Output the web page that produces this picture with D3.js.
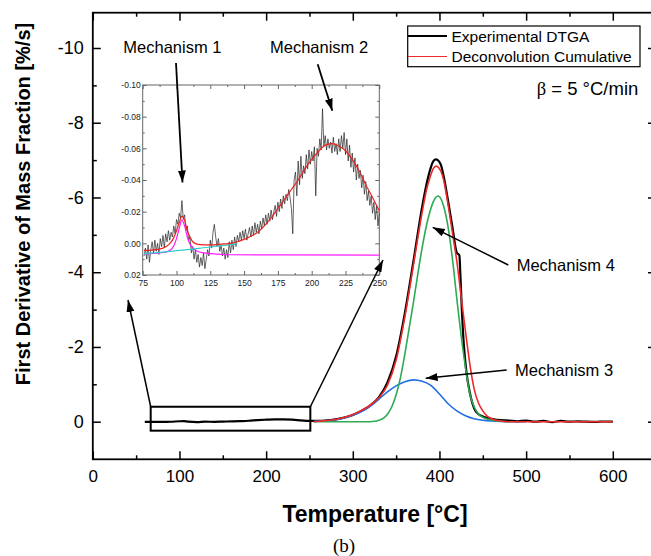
<!DOCTYPE html>
<html>
<head>
<meta charset="utf-8">
<script src="https://cdn.jsdelivr.net/npm/d3@7"></script>
<style>
  body { margin: 0; background: #fff; }
  svg { display: block; font-family: Arial, "Liberation Sans", sans-serif; }
</style>
</head>
<body>
<svg id="chart" width="651" height="556"></svg>
<script>
// ---- main chart data (temperature in °C, first derivative in %/s) ----
const expT = [60, 70, 80, 90, 100, 105, 110, 120, 130, 140, 150, 160, 170, 180, 190, 200, 210, 220, 230, 240, 250, 260, 270, 280, 290, 300, 310, 320, 330, 340, 350, 360, 370, 380, 385, 390, 393, 396, 399, 402, 405, 410, 415, 420, 423, 424, 426, 428, 431, 435, 440, 445, 450, 460, 470, 480, 490, 500, 510, 520, 530, 540, 550, 560, 570, 580, 590, 600];
const expV = [0.005, 0.003, 0.006, 0.001, -0.012, -0.015, 0.0, 0.01, 0.0, 0.003, -0.003, -0.008, -0.016, -0.026, -0.042, -0.054, -0.063, -0.062, -0.054, -0.036, -0.02, -0.02, -0.035, -0.06, -0.11, -0.18, -0.29, -0.43, -0.65, -1.05, -1.75, -2.9, -4.3, -5.75, -6.35, -6.8, -6.97, -7.02, -6.98, -6.85, -6.55, -5.9, -5.2, -4.52, -4.45, -4.0, -2.9, -2.1, -1.35, -0.78, -0.36, -0.2, -0.14, -0.08, -0.04, -0.03, -0.01, -0.03, 0.0, -0.02, 0.01, -0.02, 0.0, -0.01, 0.0, 0.005, -0.005, 0.0];

const cumT = [255, 260, 270, 280, 290, 300, 310, 320, 330, 340, 350, 360, 370, 380, 385, 390, 393, 396, 399, 402, 405, 410, 415, 420, 425, 430, 435, 440, 445, 450, 455, 460, 470, 480, 500, 520, 540, 560, 580, 600];
const cumV = [0, -0.01, -0.03, -0.06, -0.11, -0.19, -0.3, -0.44, -0.64, -0.98, -1.65, -2.8, -4.2, -5.6, -6.2, -6.6, -6.78, -6.84, -6.8, -6.68, -6.45, -5.8, -5.05, -4.3, -3.35, -2.42, -1.55, -0.88, -0.5, -0.29, -0.15, -0.08, -0.02, 0, 0, 0, 0, 0, 0, 0];

const mech4T = [255, 300, 320, 325, 330, 335, 340, 345, 350, 355, 360, 365, 370, 375, 380, 385, 390, 395, 398, 400, 405, 410, 415, 420, 425, 430, 435, 440, 445, 450, 455, 460, 470, 480];
const mech4V = [0, 0, 0, -0.01, -0.04, -0.09, -0.2, -0.4, -0.72, -1.18, -1.8, -2.5, -3.2, -3.95, -4.65, -5.25, -5.7, -5.98, -6.04, -6.02, -5.75, -5.2, -4.35, -3.3, -2.3, -1.45, -0.75, -0.4, -0.2, -0.12, -0.07, -0.04, -0.01, 0];

const mech3T = [255, 270, 280, 290, 300, 310, 320, 330, 340, 350, 360, 370, 380, 390, 400, 410, 420, 430, 440, 450, 460, 470, 480, 500];
const mech3V = [-0.01, -0.03, -0.05, -0.1, -0.17, -0.27, -0.41, -0.6, -0.8, -0.96, -1.07, -1.12, -1.08, -0.97, -0.74, -0.48, -0.29, -0.16, -0.08, -0.04, -0.02, -0.01, 0, 0];

const xTicks = [0, 100, 200, 300, 400, 500, 600];
const yTicks = [0, -2, -4, -6, -8, -10];

// ---- inset data (75-250 °C) ----
const inT = d3.range(76, 251); // 1 °C steps, one reading per degree
const inExp = [0.008, 0.003, 0.010, 0.001, 0.012, 0.004, -0.001, 0.006, -0.002, 0.005,
  0.000, 0.007, -0.003, 0.002, -0.005, 0.003, -0.006, -0.001, -0.008, -0.002,
  -0.007, -0.004, -0.011, -0.006, -0.015, -0.012, -0.019, -0.016, -0.027, -0.015,
  -0.018, -0.008, -0.011, -0.002, -0.004, 0.006, 0.002, 0.010, 0.004, 0.012,
  0.007, 0.015, 0.009, 0.014, 0.006, 0.016, 0.010, 0.004, 0.008, -0.002,
  0.003, -0.007, -0.012, -0.004, 0.002, -0.003, 0.005, 0.001, 0.008, 0.003,
  0.010, 0.004, 0.009, -0.001, 0.006, -0.002, 0.004, -0.004, 0.002, -0.005,
  -0.001, -0.007, -0.002, -0.008, -0.003, -0.009, -0.002, -0.006, -0.010, -0.004,
  -0.011, -0.005, -0.013, -0.007, -0.012, -0.006, -0.014, -0.009, -0.016, -0.011,
  -0.018, -0.012, -0.019, -0.014, -0.021, -0.015, -0.020, -0.024, -0.017, -0.026,
  -0.020, -0.028, -0.022, -0.030, -0.025, -0.031, -0.027, -0.034, -0.029, -0.022,
  -0.006, -0.040, -0.045, -0.030, -0.052, -0.037, -0.055, -0.041, -0.049, -0.044,
  -0.056, -0.047, -0.059, -0.050, -0.058, -0.052, -0.061, -0.030, -0.060, -0.055,
  -0.066, -0.059, -0.085, -0.061, -0.068, -0.059, -0.066, -0.060, -0.064, -0.057,
  -0.067, -0.058, -0.063, -0.056, -0.066, -0.058, -0.068, -0.060, -0.070, -0.056,
  -0.066, -0.052, -0.062, -0.048, -0.057, -0.045, -0.054, -0.040, -0.050, -0.041,
  -0.046, -0.035, -0.043, -0.031, -0.039, -0.027, -0.033, -0.024, -0.030, -0.019,
  -0.026, -0.015, -0.024, -0.011, -0.019];

const inCumT = [76, 80, 85, 90, 94, 97, 100, 102, 104, 106, 108, 110, 112, 115, 120, 125, 130, 135, 140, 145, 150, 155, 160, 165, 170, 175, 180, 185, 190, 195, 200, 205, 210, 215, 220, 225, 230, 235, 240, 245, 250];
const inCumV = [0.0045, 0.0044, 0.004, 0.003, 0.001, -0.002, -0.008, -0.013, -0.0172, -0.0145, -0.008, -0.004, -0.001, 0.0005, 0.001, 0.001, 0.0008, 0.0004, 0.0, -0.001, -0.0025, -0.0045, -0.007, -0.011, -0.016, -0.022, -0.028, -0.034, -0.040, -0.047, -0.053, -0.058, -0.062, -0.063, -0.0615, -0.0585, -0.053, -0.046, -0.037, -0.029, -0.0205];

const inM1T = [76, 85, 90, 95, 98, 100, 102, 104, 106, 108, 110, 112, 115, 120, 130, 140, 250];
const inM1V = [0.0066, 0.0062, 0.0058, 0.0046, 0.0015, -0.003, -0.0095, -0.0147, -0.011, -0.004, 0.0005, 0.003, 0.0048, 0.006, 0.0068, 0.0072, 0.0074];

const inBaseT = [76, 90, 100, 110, 120, 130, 140, 145];
const inBaseV = [0.0065, 0.0055, 0.0046, 0.0038, 0.0028, 0.0018, 0.0008, 0.0002];

const inXTicks = [75, 100, 125, 150, 175, 200, 225, 250];
const inYTicks = [-0.10, -0.08, -0.06, -0.04, -0.02, 0.00, 0.02];

// ---- layout ----
const frame = { left: 92.8, top: 12.7, right: 656, bottom: 459.3 };
const inset = { left: 142.7, top: 85, right: 379.3, bottom: 275 };

const svg = d3.select('#chart');
const x = d3.scaleLinear().domain([0, 600]).range([92.8, 612.8]);
const y = d3.scaleLinear().domain([0, -10]).range([421.7, 48]);
const xi = d3.scaleLinear().domain([75, 250]).range([inset.left, inset.right]);
const yi = d3.scaleLinear().domain([0.02, -0.10]).range([inset.bottom, inset.top]);

// plain hyphen for negative labels, as in the original figure
const hyphen = f => d => f(d).replace('\u2212', '-');

const defs = svg.append('defs');
defs.append('marker')
  .attr('id', 'head')
  .attr('viewBox', '0 0 12 8')
  .attr('refX', 12).attr('refY', 4)
  .attr('markerWidth', 12).attr('markerHeight', 8)
  .attr('markerUnits', 'userSpaceOnUse')
  .attr('orient', 'auto')
  .append('path').attr('d', 'M0,0 L12,4 L0,8 z').attr('fill', '#000');

// ---- main axes ----
function styleAxis(g, color, width) {
  g.select('.domain').remove();
  g.selectAll('.tick line').attr('stroke', color).attr('stroke-width', width);
}

const minorX = d3.range(50, 651, 100);
const minorY = [-1, -3, -5, -7, -9];

svg.append('g').attr('transform', `translate(0,${frame.bottom})`)
  .call(d3.axisBottom(x).tickValues(xTicks).tickSize(-8).tickPadding(11))
  .call(g => styleAxis(g, '#000', 1.5))
  .call(g => g.selectAll('text').attr('font-size', 17).attr('fill', '#000'));
svg.append('g').attr('transform', `translate(0,${frame.bottom})`)
  .call(d3.axisBottom(x).tickValues(minorX).tickSize(-4).tickFormat(''))
  .call(g => styleAxis(g, '#000', 1.5));
svg.append('g').attr('transform', `translate(0,${frame.top})`)
  .call(d3.axisTop(x).tickValues(xTicks).tickSize(-8).tickFormat(''))
  .call(g => styleAxis(g, '#000', 1.5));
svg.append('g').attr('transform', `translate(0,${frame.top})`)
  .call(d3.axisTop(x).tickValues(minorX).tickSize(-4).tickFormat(''))
  .call(g => styleAxis(g, '#000', 1.5));

svg.append('g').attr('transform', `translate(${frame.left},0)`)
  .call(d3.axisLeft(y).tickValues(yTicks).tickSize(-8).tickPadding(9).tickFormat(hyphen(d3.format('d'))))
  .call(g => styleAxis(g, '#000', 1.5))
  .call(g => g.selectAll('text').attr('font-size', 18).attr('fill', '#000'));
svg.append('g').attr('transform', `translate(${frame.left},0)`)
  .call(d3.axisLeft(y).tickValues(minorY).tickSize(-4).tickFormat(''))
  .call(g => styleAxis(g, '#000', 1.5));
svg.append('g').attr('transform', `translate(${frame.right},0)`)
  .call(d3.axisRight(y).tickValues(yTicks).tickSize(-8).tickFormat(''))
  .call(g => styleAxis(g, '#000', 1.5));
svg.append('g').attr('transform', `translate(${frame.right},0)`)
  .call(d3.axisRight(y).tickValues(minorY).tickSize(-4).tickFormat(''))
  .call(g => styleAxis(g, '#000', 1.5));

svg.append('rect')
  .attr('x', frame.left).attr('y', frame.top)
  .attr('width', frame.right - frame.left).attr('height', frame.bottom - frame.top)
  .attr('fill', 'none').attr('stroke', '#000').attr('stroke-width', 1.8);

// ---- main curves ----
const mainLine = d3.line().curve(d3.curveMonotoneX);
function drawMain(ts, vs, color, width) {
  svg.append('path')
    .attr('d', mainLine(ts.map((t, i) => [x(t), y(vs[i])])))
    .attr('fill', 'none').attr('stroke', color).attr('stroke-width', width)
    .attr('stroke-linejoin', 'round');
}
drawMain(expT, expV, '#000', 2.2);
drawMain(mech3T, mech3V, '#1f6fe5', 1.6);
drawMain(mech4T, mech4V, '#2eaa55', 1.6);
drawMain(cumT, cumV, '#ee2a2a', 1.6);

// zoom box around the low-temperature region
svg.append('rect')
  .attr('x', x(66.8)).attr('y', y(-0.4))
  .attr('width', x(251) - x(66.8)).attr('height', y(0.24) - y(-0.4))
  .attr('fill', 'none').attr('stroke', '#000').attr('stroke-width', 2);

// ---- inset ----
const ins = svg.append('g');
ins.append('rect')
  .attr('x', inset.left).attr('y', inset.top)
  .attr('width', inset.right - inset.left).attr('height', inset.bottom - inset.top)
  .attr('fill', '#fff');

const inMinorX = d3.range(87.5, 250, 25);
const inMinorY = [-0.09, -0.07, -0.05, -0.03, -0.01, 0.01];
const grey = '#666';
ins.append('g').attr('transform', `translate(0,${inset.bottom})`)
  .call(d3.axisBottom(xi).tickValues(inXTicks).tickSize(-4).tickPadding(4.5))
  .call(g => styleAxis(g, grey, 1))
  .call(g => g.selectAll('text').attr('font-size', 8.5).attr('fill', '#222'));
ins.append('g').attr('transform', `translate(0,${inset.bottom})`)
  .call(d3.axisBottom(xi).tickValues(inMinorX).tickSize(-2).tickFormat(''))
  .call(g => styleAxis(g, grey, 1));
ins.append('g').attr('transform', `translate(0,${inset.top})`)
  .call(d3.axisTop(xi).tickValues(inXTicks).tickSize(-4).tickFormat(''))
  .call(g => styleAxis(g, grey, 1));
ins.append('g').attr('transform', `translate(0,${inset.top})`)
  .call(d3.axisTop(xi).tickValues(inMinorX).tickSize(-2).tickFormat(''))
  .call(g => styleAxis(g, grey, 1));
ins.append('g').attr('transform', `translate(${inset.left},0)`)
  .call(d3.axisLeft(yi).tickValues(inYTicks).tickSize(-4).tickPadding(2).tickFormat(hyphen(d3.format('.2f'))))
  .call(g => styleAxis(g, grey, 1))
  .call(g => g.selectAll('text').attr('font-size', 8.5).attr('fill', '#222'));
ins.append('g').attr('transform', `translate(${inset.left},0)`)
  .call(d3.axisLeft(yi).tickValues(inMinorY).tickSize(-2).tickFormat(''))
  .call(g => styleAxis(g, grey, 1));
ins.append('g').attr('transform', `translate(${inset.right},0)`)
  .call(d3.axisRight(yi).tickValues(inYTicks).tickSize(-4).tickFormat(''))
  .call(g => styleAxis(g, grey, 1));
ins.append('g').attr('transform', `translate(${inset.right},0)`)
  .call(d3.axisRight(yi).tickValues(inMinorY).tickSize(-2).tickFormat(''))
  .call(g => styleAxis(g, grey, 1));

ins.append('rect')
  .attr('x', inset.left).attr('y', inset.top)
  .attr('width', inset.right - inset.left).attr('height', inset.bottom - inset.top)
  .attr('fill', 'none').attr('stroke', grey).attr('stroke-width', 1);

function drawInset(ts, vs, color, width, curve) {
  ins.append('path')
    .attr('d', d3.line().curve(curve)(ts.map((t, i) => [xi(t), yi(vs[i])])))
    .attr('fill', 'none').attr('stroke', color).attr('stroke-width', width);
}
drawInset(inT, inExp, '#222', 0.7, d3.curveLinear);
drawInset(inM1T, inM1V, '#ff1cff', 1.2, d3.curveMonotoneX);
drawInset(inBaseT, inBaseV, '#2fcfcf', 1.2, d3.curveMonotoneX);
drawInset(inCumT, inCumV, '#ee2020', 1.2, d3.curveMonotoneX);

// ---- annotations ----
function arrow(x1, y1, x2, y2, w) {
  svg.append('line')
    .attr('x1', x1).attr('y1', y1).attr('x2', x2).attr('y2', y2)
    .attr('stroke', '#000').attr('stroke-width', w)
    .attr('marker-end', 'url(#head)');
}
arrow(176, 63, 182.5, 182.5, 1.8);
arrow(317.7, 64.3, 332.3, 110.7, 1.8);
arrow(508.3, 265, 432.7, 227.3, 1.5);
arrow(506.7, 370, 425.7, 378.3, 1.5);
arrow(x(66.8), y(-0.4), 128, 300, 1.5);
arrow(x(251), y(-0.4), 383, 260, 1.5);

const labels = [
  { text: 'Mechanism 1', x: 123.3, y: 53.3 },
  { text: 'Mechanism 2', x: 270, y: 53.3 },
  { text: 'Mechanism 4', x: 516.7, y: 270.7 },
  { text: 'Mechanism 3', x: 515, y: 376 }
];
svg.append('g').selectAll('text').data(labels).join('text')
  .attr('x', d => d.x).attr('y', d => d.y)
  .attr('font-size', 16.5).attr('fill', '#000')
  .text(d => d.text);

// legend
const leg = svg.append('g');
leg.append('rect').attr('x', 407.7).attr('y', 26).attr('width', 232.3).attr('height', 40.7)
  .attr('fill', '#fff').attr('stroke', '#000').attr('stroke-width', 1.2);
const legendItems = [
  { name: 'Experimental DTGA', color: '#000', width: 2.2, y: 36 },
  { name: 'Deconvolution Cumulative', color: '#ee2a2a', width: 1.2, y: 56.5 }
];
legendItems.forEach(d => {
  leg.append('line').attr('x1', 408).attr('x2', 447).attr('y1', d.y).attr('y2', d.y)
    .attr('stroke', d.color).attr('stroke-width', d.width);
  leg.append('text').attr('x', 451.5).attr('y', d.y + 5.6)
    .attr('font-size', 15.5).attr('fill', '#000').text(d.name);
});

const beta = svg.append('text').attr('x', 638.3).attr('y', 95)
  .attr('text-anchor', 'end').attr('font-size', 18.5).attr('fill', '#000');
beta.append('tspan').attr('font-family', '"Liberation Serif", "Times New Roman", serif').text('β');
beta.append('tspan').text(' = 5 °C/min');

// axis titles
svg.append('text')
  .attr('transform', 'translate(30,204) rotate(-90)')
  .attr('text-anchor', 'middle')
  .attr('font-size', 20).attr('font-weight', 'bold').attr('fill', '#000')
  .text('First Derivative of Mass Fraction [%/s]');
svg.append('text')
  .attr('x', 375).attr('y', 521.7)
  .attr('text-anchor', 'middle')
  .attr('font-size', 23).attr('font-weight', 'bold').attr('fill', '#000')
  .text('Temperature [°C]');
svg.append('text')
  .attr('x', 344).attr('y', 552)
  .attr('text-anchor', 'middle')
  .attr('font-family', '"Liberation Serif", "Times New Roman", serif')
  .attr('font-size', 19).attr('fill', '#000')
  .text('(b)');
</script>
</body>
</html>
